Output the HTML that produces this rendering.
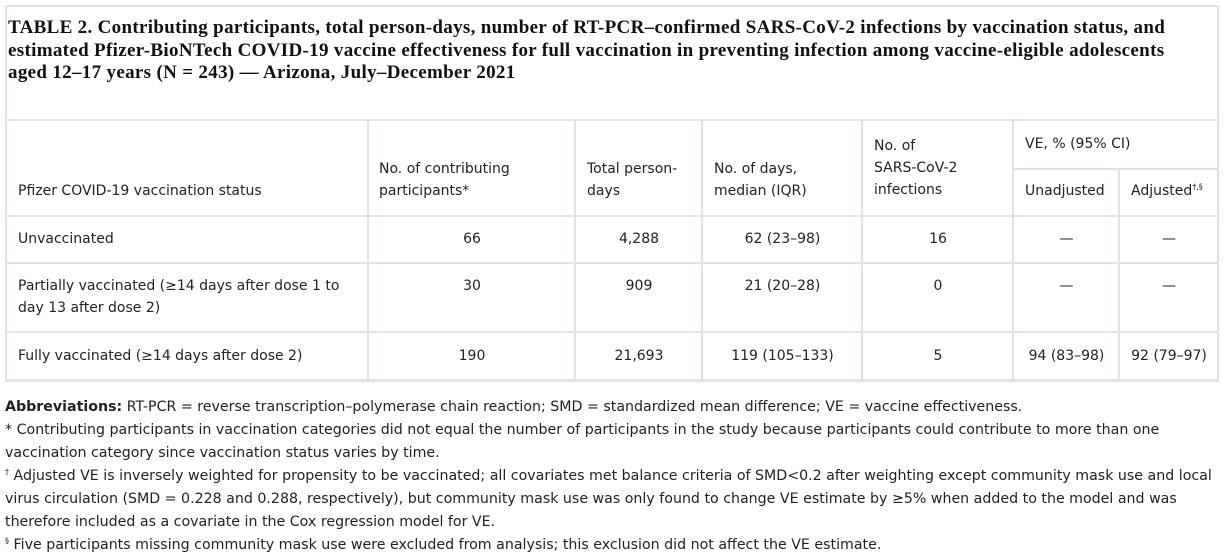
<!DOCTYPE html>
<html><head><meta charset="utf-8"><style>
body{margin:0;width:1223px;height:560px;background:#fff;position:relative;font-family:"DejaVu Sans","Liberation Sans",sans-serif;color:#222;overflow:hidden}
.a{position:absolute}
.t{font-family:"Liberation Serif",serif;font-weight:bold;font-size:19px;letter-spacing:0.32px;line-height:22.5px;color:#111;left:8px;top:17px;white-space:nowrap}
.h{background:#dfe2e6}
.c{font-size:14px;line-height:22px;position:absolute;white-space:nowrap}
.ctr{text-align:center}
.f{font-size:14.2px;line-height:23px;left:5px;white-space:nowrap;color:#222}
sup{font-size:8px;line-height:0}
</style></head><body>
<div class="a h" style="left:5px;top:5px;width:1214px;height:2px"></div>
<div class="a h" style="left:5px;top:5px;width:2px;height:377px"></div>
<div class="a h" style="left:1217px;top:5px;width:2px;height:377px"></div>
<div class="a h" style="left:5px;top:379px;width:1214px;height:3px"></div>
<div class="a h" style="left:5px;top:119px;width:1214px;height:2px"></div>
<div class="a h" style="left:5px;top:215px;width:1214px;height:2px"></div>
<div class="a h" style="left:5px;top:262px;width:1214px;height:2px"></div>
<div class="a h" style="left:5px;top:331px;width:1214px;height:2px"></div>
<div class="a h" style="left:1012px;top:168px;width:207px;height:2px"></div>
<div class="a h" style="left:367px;top:119px;width:2px;height:262px"></div>
<div class="a h" style="left:574px;top:119px;width:2px;height:262px"></div>
<div class="a h" style="left:701px;top:119px;width:2px;height:262px"></div>
<div class="a h" style="left:861px;top:119px;width:2px;height:262px"></div>
<div class="a h" style="left:1012px;top:119px;width:2px;height:262px"></div>
<div class="a h" style="left:1118px;top:168px;width:2px;height:213px"></div>

<div class="a t">TABLE 2. Contributing participants, total person-days, number of RT-PCR–confirmed SARS-CoV-2 infections by vaccination status, and<br>estimated Pfizer-BioNTech COVID-19 vaccine effectiveness for full vaccination in preventing infection among vaccine-eligible adolescents<br>aged 12–17 years (N = 243) — Arizona, July–December 2021</div>

<div class="c" style="left:18px;top:180px">Pfizer COVID-19 vaccination status</div>
<div class="c" style="left:379px;top:158px">No. of contributing<br>participants*</div>
<div class="c" style="left:587px;top:158px">Total person-<br>days</div>
<div class="c" style="left:714px;top:158px">No. of days,<br>median (IQR)</div>
<div class="c" style="left:874px;top:135px">No. of<br>SARS-CoV-2<br>infections</div>
<div class="c" style="left:1025px;top:133px">VE, % (95% CI)</div>
<div class="c" style="left:1025px;top:180px">Unadjusted</div>
<div class="c" style="left:1131px;top:180px">Adjusted<sup>†,§</sup></div>

<div class="c" style="left:18px;top:228px">Unvaccinated</div>
<div class="c ctr" style="left:369px;width:206px;top:228px">66</div>
<div class="c ctr" style="left:576px;width:126px;top:228px">4,288</div>
<div class="c ctr" style="left:703px;width:159px;top:228px">62 (23–98)</div>
<div class="c ctr" style="left:863px;width:150px;top:228px">16</div>
<div class="c ctr" style="left:1014px;width:105px;top:228px">—</div>
<div class="c ctr" style="left:1120px;width:98px;top:228px">—</div>

<div class="c" style="left:18px;top:275px">Partially vaccinated (≥14 days after dose 1 to<br>day 13 after dose 2)</div>
<div class="c ctr" style="left:369px;width:206px;top:275px">30</div>
<div class="c ctr" style="left:576px;width:126px;top:275px">909</div>
<div class="c ctr" style="left:703px;width:159px;top:275px">21 (20–28)</div>
<div class="c ctr" style="left:863px;width:150px;top:275px">0</div>
<div class="c ctr" style="left:1014px;width:105px;top:275px">—</div>
<div class="c ctr" style="left:1120px;width:98px;top:275px">—</div>

<div class="c" style="left:18px;top:345px">Fully vaccinated (≥14 days after dose 2)</div>
<div class="c ctr" style="left:369px;width:206px;top:345px">190</div>
<div class="c ctr" style="left:576px;width:126px;top:345px">21,693</div>
<div class="c ctr" style="left:703px;width:159px;top:345px">119 (105–133)</div>
<div class="c ctr" style="left:863px;width:150px;top:345px">5</div>
<div class="c ctr" style="left:1014px;width:105px;top:345px">94 (83–98)</div>
<div class="c ctr" style="left:1120px;width:98px;top:345px">92 (79–97)</div>

<div class="a f" style="top:396px"><b>Abbreviations:</b> RT-PCR = reverse transcription–polymerase chain reaction; SMD = standardized mean difference; VE = vaccine effectiveness.<br>
* Contributing participants in vaccination categories did not equal the number of participants in the study because participants could contribute to more than one<br>vaccination category since vaccination status varies by time.<br>
<sup>†</sup> Adjusted VE is inversely weighted for propensity to be vaccinated; all covariates met balance criteria of SMD&lt;0.2 after weighting except community mask use and local<br>virus circulation (SMD = 0.228 and 0.288, respectively), but community mask use was only found to change VE estimate by ≥5% when added to the model and was<br>therefore included as a covariate in the Cox regression model for VE.<br>
<sup>§</sup> Five participants missing community mask use were excluded from analysis; this exclusion did not affect the VE estimate.</div>
</body></html>
